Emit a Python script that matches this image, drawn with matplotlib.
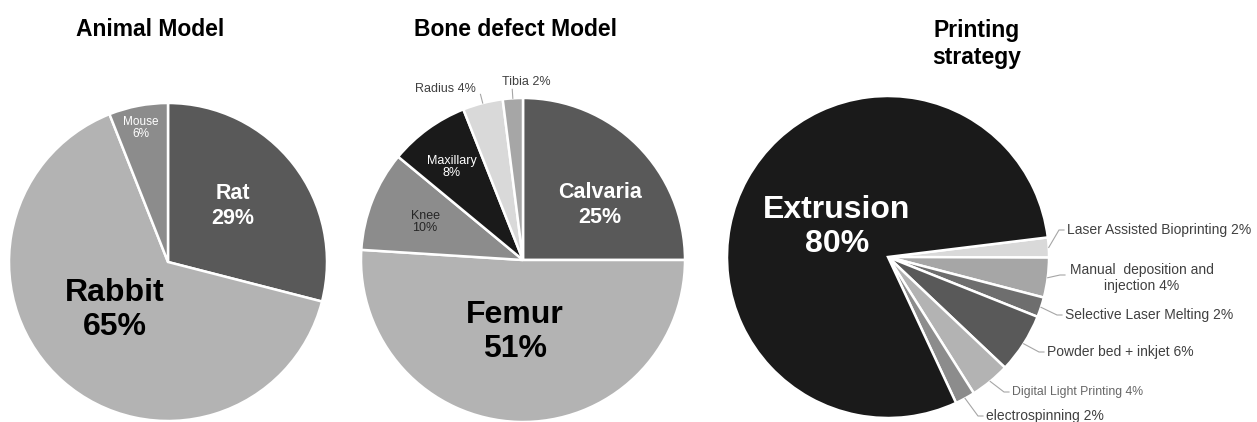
# Three grey pie charts: animal model, bone defect model, printing strategy

import numpy as np
import matplotlib.pyplot as plt

plt.rcParams['font.family'] = ['Liberation Sans', 'DejaVu Sans']

# data
animal_labels = ['Rat', 'Rabbit', 'Mouse']
animal_values = [29, 65, 6]

bone_labels = ['Calvaria', 'Femur', 'Knee', 'Maxillary', 'Radius', 'Tibia']
bone_values = [25, 51, 10, 8, 4, 2]

print_labels = ['Laser Assisted Bioprinting', 'Manual  deposition and\ninjection',
                'Selective Laser Melting', 'Powder bed + inkjet',
                'Digital Light Printing', 'electrospinning', 'Extrusion']
print_values = [2, 4, 2, 6, 4, 2, 80]

W, H = 1257, 422
fig = plt.figure(figsize=(W / 100, H / 100), dpi=100)
ax = fig.add_axes([0, 0, 1, 1])

def Y(y):
    # image row -> data y
    return H - y

wedge_kw = dict(edgecolor='white', linewidth=1.8)
title_size = 16.5

# ---- Animal model
ax.pie(animal_values, colors=['#595959', '#b3b3b3', '#8c8c8c'],
       startangle=90, counterclock=False, center=(168, Y(262)), radius=159,
       wedgeprops=wedge_kw)
ax.text(150, Y(30), 'Animal Model', ha='center', va='center',
        fontsize=title_size, fontweight='bold')
ax.text(233, Y(206), f'{animal_labels[0]}\n{animal_values[0]}%', ha='center', va='center',
        color='white', fontsize=15.5, fontweight='bold', linespacing=1.2)
ax.text(115, Y(310), f'{animal_labels[1]}\n{animal_values[1]}%', ha='center', va='center',
        color='black', fontsize=23, fontweight='bold', linespacing=1.15)
ax.text(141, Y(128), f'{animal_labels[2]}\n{animal_values[2]}%', ha='center', va='center',
        color='white', fontsize=8.5, linespacing=1.0)

# ---- Bone defect model
bone_colors = ['#595959', '#b3b3b3', '#8c8c8c', '#1a1a1a', '#d9d9d9', '#a6a6a6']
bw, _ = ax.pie(bone_values, colors=bone_colors, startangle=90, counterclock=False,
               center=(523, Y(260)), radius=162, wedgeprops=wedge_kw)
ax.text(515, Y(30), 'Bone defect Model', ha='center', va='center',
        fontsize=title_size, fontweight='bold')
ax.text(600, Y(205), f'{bone_labels[0]}\n{bone_values[0]}%', ha='center', va='center',
        color='white', fontsize=15.5, fontweight='bold', linespacing=1.2)
ax.text(515, Y(332), f'{bone_labels[1]}\n{bone_values[1]}%', ha='center', va='center',
        color='black', fontsize=23, fontweight='bold', linespacing=1.15)
ax.text(425, Y(222), f'{bone_labels[2]}\n{bone_values[2]}%', ha='center', va='center',
        color='#262626', fontsize=9, linespacing=1.0)
ax.text(452, Y(167), f'{bone_labels[3]}\n{bone_values[3]}%', ha='center', va='center',
        color='white', fontsize=9, linespacing=1.0)
# outside labels with short leader lines
for i, (tx, ty) in [(4, (445, 89)), (5, (526, 82))]:
    w = bw[i]
    ang = np.deg2rad((w.theta1 + w.theta2) / 2)
    cx, cy = w.center
    x0, y0 = cx + w.r * np.cos(ang), cy + w.r * np.sin(ang)
    x1, y1 = cx + (w.r + 9) * np.cos(ang), cy + (w.r + 9) * np.sin(ang)
    ax.plot([x0, x1], [y0, y1], color='#a6a6a6', lw=0.8)
    ax.text(tx, Y(ty), f'{bone_labels[i]} {bone_values[i]}%', ha='center', va='center',
            color='#404040', fontsize=9)

# ---- Printing strategy
print_colors = ['#d9d9d9', '#a6a6a6', '#6e6e6e', '#595959', '#b3b3b3', '#8c8c8c', '#1a1a1a']
explode = [0.03] * 6 + [0]
pw, _ = ax.pie(print_values, colors=print_colors, startangle=7, counterclock=False,
               center=(888, Y(257)), radius=161, explode=explode, wedgeprops=wedge_kw)
ax.text(977, Y(44), 'Printing\nstrategy', ha='center', va='center',
        fontsize=title_size, fontweight='bold', linespacing=1.25)
ax.text(837, Y(227), f'{print_labels[6]}\n{print_values[6]}%', ha='center', va='center',
        color='white', fontsize=23, fontweight='bold', linespacing=1.15)

label_pos = [(1067, 230, 'left'), (1142, 278, 'center'), (1065, 315, 'left'),
             (1047, 352, 'left'), (1012, 392, 'left'), (986, 416, 'left')]
label_left = [1067, 1068, 1065, 1047, 1012, 986]
label_size = [10, 10, 10, 10, 8.8, 10]
label_col = ['#404040', '#404040', '#404040', '#404040', '#666666', '#404040']
for i, (tx, ty, ha) in enumerate(label_pos):
    w = pw[i]
    ang = np.deg2rad((w.theta1 + w.theta2) / 2)
    cx, cy = w.center
    x0, y0 = cx + w.r * np.cos(ang), cy + w.r * np.sin(ang)
    lx = label_left[i]
    ey = Y(ty) if i != 1 else Y(275)
    ax.plot([x0, lx - 8, lx - 3], [y0, ey, ey], color='#a6a6a6', lw=0.8)
    ax.text(tx, Y(ty), f'{print_labels[i]} {print_values[i]}%', ha=ha, va='center',
            color=label_col[i], fontsize=label_size[i], multialignment='center',
            linespacing=1.1)

ax.set_xlim(0, W)
ax.set_ylim(0, H)
ax.set_aspect('equal')
ax.axis('off')

fig.savefig('out.png', dpi=100)
